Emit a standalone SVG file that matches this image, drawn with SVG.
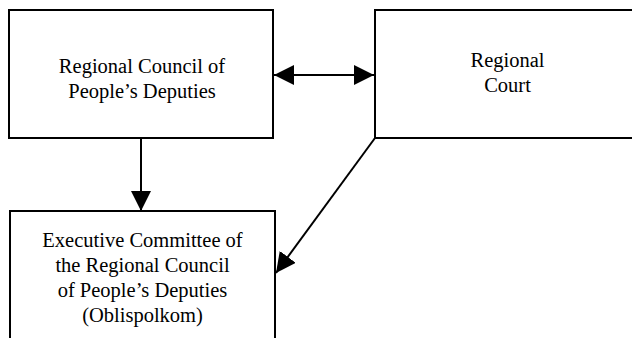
<svg xmlns="http://www.w3.org/2000/svg" width="632" height="338" viewBox="0 0 632 338">
<style>
.box{fill:#fff;stroke:#000;stroke-width:2}
.lbl{font-family:"Liberation Serif","Times New Roman",serif;font-size:20.5px;fill:#000;text-anchor:middle}
.edge{stroke:#000;stroke-width:2;fill:none}
</style>
<defs>
<marker id="ah" markerUnits="userSpaceOnUse" markerWidth="20" markerHeight="20" refX="20" refY="10" orient="auto-start-reverse" viewBox="0 0 20 20">
<path d="M0,0 L20,10 L0,20 z" fill="#000"/>
</marker>
</defs>
<rect width="632" height="338" fill="#fff"/>
<g id="council">
<rect class="box" x="9" y="10" width="264" height="128"/>
<text class="lbl" x="142" y="73">Regional Council of</text>
<text class="lbl" x="142" y="98">People’s Deputies</text>
</g>
<g id="court">
<rect class="box" x="375" y="10" width="266" height="128"/>
<text class="lbl" x="507.5" y="67">Regional</text>
<text class="lbl" x="507.5" y="92">Court</text>
</g>
<g id="oblispolkom">
<rect class="box" x="10" y="211" width="265" height="140"/>
<text class="lbl" x="142.5" y="246.5">Executive Committee of</text>
<text class="lbl" x="142.5" y="271.5">the Regional Council</text>
<text class="lbl" x="142.5" y="296.5">of People’s Deputies</text>
<text class="lbl" x="142.5" y="321.5">(Oblispolkom)</text>
</g>
<g id="connectors">
<line class="edge" x1="274" y1="75" x2="374" y2="75" marker-start="url(#ah)" marker-end="url(#ah)"/>
<line class="edge" x1="141" y1="138" x2="141" y2="211" marker-end="url(#ah)"/>
<line class="edge" x1="375" y1="138" x2="276" y2="273" marker-end="url(#ah)"/>
</g>
</svg>
